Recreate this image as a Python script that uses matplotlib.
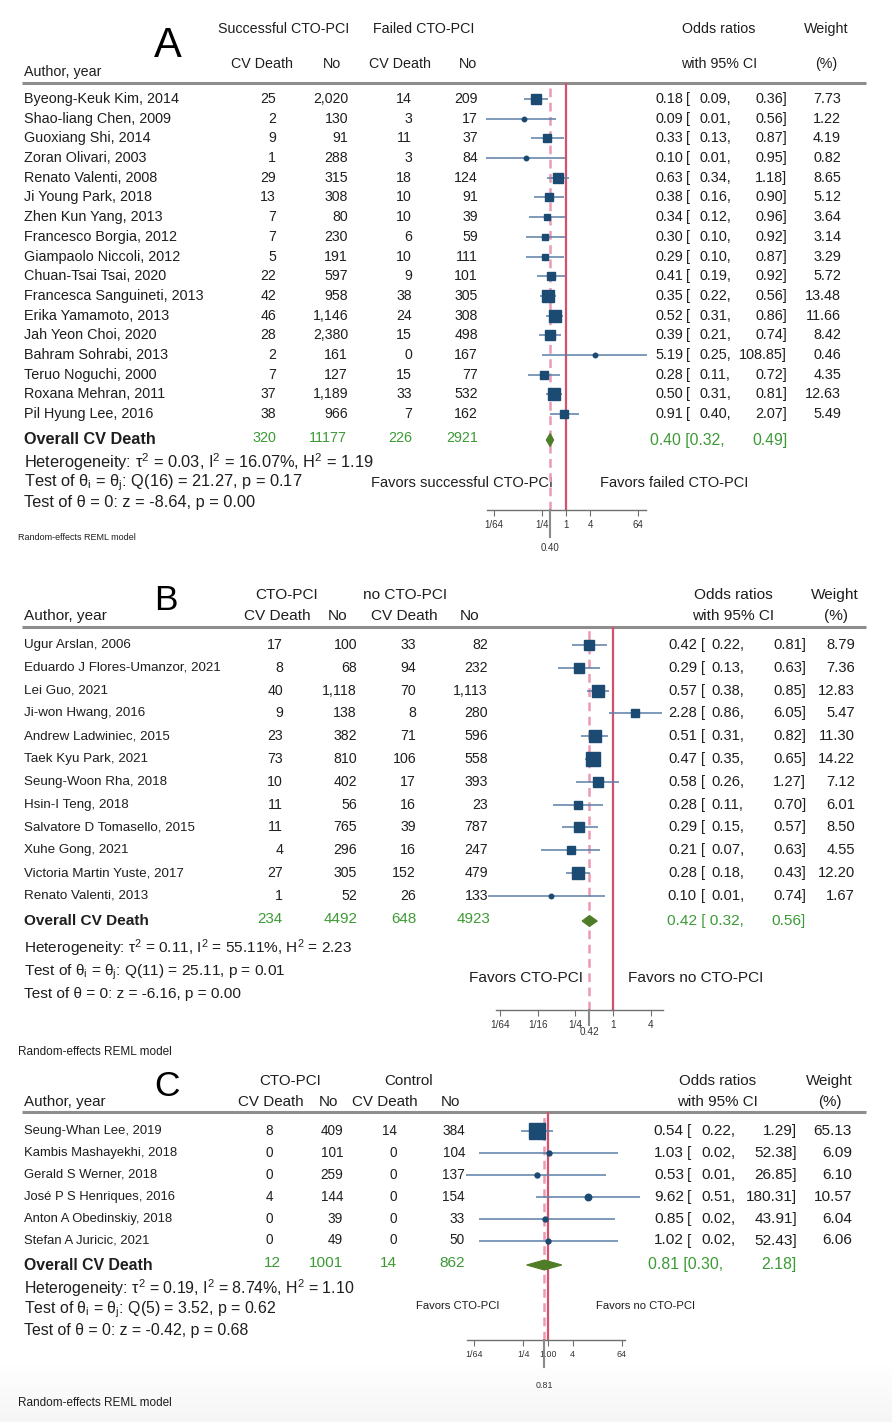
import numpy as np
import matplotlib
matplotlib.use("Agg")
import matplotlib.pyplot as plt
import matplotlib.font_manager as fm
from matplotlib.patches import Polygon

# ---------------- data ----------------
# panel A: successful vs failed CTO-PCI
authors_a = ["Byeong-Keuk Kim, 2014", "Shao-liang Chen, 2009", "Guoxiang Shi, 2014",
             "Zoran Olivari, 2003", "Renato Valenti, 2008", "Ji Young Park, 2018",
             "Zhen Kun Yang, 2013", "Francesco Borgia, 2012", "Giampaolo Niccoli, 2012",
             "Chuan-Tsai Tsai, 2020", "Francesca Sanguineti, 2013", "Erika Yamamoto, 2013",
             "Jah Yeon Choi, 2020", "Bahram Sohrabi, 2013", "Teruo Noguchi, 2000",
             "Roxana Mehran, 2011", "Pil Hyung Lee, 2016"]
ev1_a = [25, 2, 9, 1, 29, 13, 7, 7, 5, 22, 42, 46, 28, 2, 7, 37, 38]
no1_a = [2020, 130, 91, 288, 315, 308, 80, 230, 191, 597, 958, 1146, 2380, 161, 127, 1189, 966]
ev2_a = [14, 3, 11, 3, 18, 10, 10, 6, 10, 9, 38, 24, 15, 0, 15, 33, 7]
no2_a = [209, 17, 37, 84, 124, 91, 39, 59, 111, 101, 305, 308, 498, 167, 77, 532, 162]
or_a = [0.18, 0.09, 0.33, 0.10, 0.63, 0.38, 0.34, 0.30, 0.29, 0.41, 0.35, 0.52, 0.39, 5.19, 0.28, 0.50, 0.91]
lo_a = [0.09, 0.01, 0.13, 0.01, 0.34, 0.16, 0.12, 0.10, 0.10, 0.19, 0.22, 0.31, 0.21, 0.25, 0.11, 0.31, 0.40]
hi_a = [0.36, 0.56, 0.87, 0.95, 1.18, 0.90, 0.96, 0.92, 0.87, 0.92, 0.56, 0.86, 0.74, 108.85, 0.72, 0.81, 2.07]
wt_a = [7.73, 1.22, 4.19, 0.82, 8.65, 5.12, 3.64, 3.14, 3.29, 5.72, 13.48, 11.66, 8.42, 0.46, 4.35, 12.63, 5.49]
tot_a = [320, 11177, 226, 2921]
overall_a = [0.40, 0.32, 0.49]
stats_a = ["0.03", "16.07%", "1.19", "16", "21.27", "0.17", "-8.64", "0.00"]

# panel B: CTO-PCI vs no CTO-PCI
authors_b = ["Ugur Arslan, 2006", "Eduardo J Flores-Umanzor, 2021", "Lei Guo, 2021",
             "Ji-won Hwang, 2016", "Andrew Ladwiniec, 2015", "Taek Kyu Park, 2021",
             "Seung-Woon Rha, 2018", "Hsin-I Teng, 2018", "Salvatore D Tomasello, 2015",
             "Xuhe Gong, 2021", "Victoria Martin Yuste, 2017", "Renato Valenti, 2013"]
ev1_b = [17, 8, 40, 9, 23, 73, 10, 11, 11, 4, 27, 1]
no1_b = [100, 68, 1118, 138, 382, 810, 402, 56, 765, 296, 305, 52]
ev2_b = [33, 94, 70, 8, 71, 106, 17, 16, 39, 16, 152, 26]
no2_b = [82, 232, 1113, 280, 596, 558, 393, 23, 787, 247, 479, 133]
or_b = [0.42, 0.29, 0.57, 2.28, 0.51, 0.47, 0.58, 0.28, 0.29, 0.21, 0.28, 0.10]
lo_b = [0.22, 0.13, 0.38, 0.86, 0.31, 0.35, 0.26, 0.11, 0.15, 0.07, 0.18, 0.01]
hi_b = [0.81, 0.63, 0.85, 6.05, 0.82, 0.65, 1.27, 0.70, 0.57, 0.63, 0.43, 0.74]
wt_b = [8.79, 7.36, 12.83, 5.47, 11.30, 14.22, 7.12, 6.01, 8.50, 4.55, 12.20, 1.67]
tot_b = [234, 4492, 648, 4923]
overall_b = [0.42, 0.32, 0.56]
stats_b = ["0.11", "55.11%", "2.23", "11", "25.11", "0.01", "-6.16", "0.00"]

# panel C: CTO-PCI vs control
authors_c = ["Seung-Whan Lee, 2019", "Kambis Mashayekhi, 2018", "Gerald S Werner, 2018",
             "José P S Henriques, 2016", "Anton A Obedinskiy, 2018", "Stefan A Juricic, 2021"]
ev1_c = [8, 0, 0, 4, 0, 0]
no1_c = [409, 101, 259, 144, 39, 49]
ev2_c = [14, 0, 0, 0, 0, 0]
no2_c = [384, 104, 137, 154, 33, 50]
or_c = [0.54, 1.03, 0.53, 9.62, 0.85, 1.02]
lo_c = [0.22, 0.02, 0.01, 0.51, 0.02, 0.02]
hi_c = [1.29, 52.38, 26.85, 180.31, 43.91, 52.43]
wt_c = [65.13, 6.09, 6.10, 10.57, 6.04, 6.06]
tot_c = [12, 1001, 14, 862]
overall_c = [0.81, 0.30, 2.18]
stats_c = ["0.19", "8.74%", "1.10", "5", "3.52", "0.62", "-0.42", "0.68"]

ticks_a = [1/64, 1/4, 1, 4, 64]
ticklabels_a = ["1/64", "1/4", "1", "4", "64"]
ticks_b = [1/64, 1/16, 1/4, 1, 4]
ticklabels_b = ["1/64", "1/16", "1/4", "1", "4"]
ticks_c = [1/64, 1/4, 1, 4, 64]
ticklabels_c = ["1/64", "1/4", "1.00", "4", "64"]


# ---------------- style ----------------
def has_font(name):
    try:
        fm.findfont(fm.FontProperties(family=name), fallback_to_default=False)
        return True
    except Exception:
        return False


REG = "Liberation Sans"
NARROW = "Liberation Sans Narrow" if has_font("Liberation Sans Narrow") else "Liberation Sans"
NSCALE = 1.0 if NARROW != REG else 0.85

plt.rcParams["font.family"] = [REG, "DejaVu Sans"]
plt.rcParams["mathtext.fontset"] = "custom"
plt.rcParams["mathtext.rm"] = REG
plt.rcParams["mathtext.it"] = REG

INK = "#1e1e1e"
GREEN = "#3c9a35"
NAVY = "#1b4a72"
CI_COL = "#5a7fa6"
RED = "#d4506c"
PINK = "#ec9ab2"
DIAMOND = "#4f7d27"
RULE = "#8e8e8e"

W, H = 892, 1422
fig = plt.figure(figsize=(W / 100, H / 100), dpi=100)
ax = fig.add_axes([0, 0, 1, 1])
ax.set_xlim(0, W)
ax.set_ylim(H, 0)
ax.axis("off")

# faint grey fade at the very bottom of the screenshot
fade = np.linspace(0, 1, 60)[:, None]
ax.imshow(fade, cmap="Greys", vmin=0, vmax=12, extent=(0, W, H, 1362),
          aspect="auto", zorder=0)


def txt(x, y, s, size, ha="left", color=INK, weight="normal", family=REG, va="center"):
    ax.text(x, y, s, fontsize=size, ha=ha, va=va, color=color,
            fontweight=weight, family=[family, "DejaVu Sans"])


def draw_panel(p):
    fam = p["family"]
    fs = p["fs"]
    # panel letter
    txt(p["letter_xy"][0], p["letter_xy"][1], p["letter"], p["letter_size"], ha="center",
        color="black", family=fam)
    # headers
    for s, x in zip(p["hdr1"], p["hdr1_x"]):
        txt(x, p["hdr1_y"], s, fs["hdr"], ha="center", family=fam)
    for s, x in zip(p["hdr2"], p["hdr2_x"]):
        txt(x, p["hdr2_y"], s, fs["hdr"], ha="center", family=fam)
    txt(24, p["author_y"], "Author, year", fs["hdr"], family=fam)
    ax.plot([22, 866], [p["rule_y"], p["rule_y"]], color=RULE, lw=2.2,
            solid_capstyle="butt")

    # study rows
    n = len(p["authors"])
    for i in range(n):
        y = p["y0"] + i * p["dy"]
        txt(24, y, p["authors"][i], fs["name"], family=p["name_family"])
        vals = [p["ev1"][i], p["no1"][i], p["ev2"][i], p["no2"][i]]
        for v, x in zip(vals, p["num_x"]):
            txt(x, y, f"{v:,}", fs["num"], ha="right", family=fam)
        cx = p["ci_x"]
        txt(cx[0], y, f"{p['or'][i]:.2f}", fs["ci"], ha="right", family=fam)
        txt(cx[1], y, "[", fs["ci"], family=fam)
        txt(cx[2], y, f"{p['lo'][i]:.2f},", fs["ci"], family=fam)
        txt(cx[3], y, f"{p['hi'][i]:.2f}]", fs["ci"], ha="right", family=fam)
        txt(cx[4], y, f"{p['wt'][i]:.2f}", fs["ci"], ha="right", family=fam)

    # overall row
    oy = p["overall_y"]
    txt(24, oy, "Overall CV Death", fs["overall"], weight="bold", family=fam)
    for v, x in zip(p["tot"], p["tot_x"]):
        txt(x, oy - 2, str(v), fs["tot"], ha="right", color=GREEN, family=fam)
    ov, olo, ohi = p["overall"]
    txt(p["ov_x"][0], oy, f"{ov:.2f} [{p['ov_gap']}{olo:.2f},", fs["ovci"], color=GREEN,
        family=fam)
    txt(p["ov_x"][1], oy, f"{ohi:.2f}]", fs["ovci"], ha="right", color=GREEN, family=fam)

    st = p["stats"]
    txt(24, p["het_y"][0], f"Heterogeneity: τ$^2$ = {st[0]}, I$^2$ = {st[1]}, H$^2$ = {st[2]}",
        fs["het"], family=fam)
    txt(24, p["het_y"][1], f"Test of θ$_i$ = θ$_j$: Q({st[3]}) = {st[4]}, p = {st[5]}",
        fs["het"], family=fam)
    txt(24, p["het_y"][2], f"Test of θ = 0: z = {st[6]}, p = {st[7]}", fs["het"], family=fam)

    txt(p["fav_x"][0], p["fav_y"], p["fav"][0], fs["fav"], ha="right", family=fam)
    txt(p["fav_x"][1], p["fav_y"], p["fav"][1], fs["fav"], family=fam)
    txt(18, p["foot_y"], "Random-effects REML model", fs["foot"], family=fam)

    # forest axes: log2 x scale, rows on y
    L, R, T, B = p["box"]
    one_x, unit = p["one_x"], p["unit"]
    fa = fig.add_axes([L / W, 1 - B / H, (R - L) / W, (B - T) / H])
    fa.patch.set_alpha(0)
    fa.set_xscale("log", base=2)
    fa.set_xlim(2 ** ((L - one_x) / unit), 2 ** ((R - one_x) / unit))
    fa.set_ylim((B - p["y0"]) / p["dy"], (T - p["y0"]) / p["dy"])
    for s in ["top", "left", "right"]:
        fa.spines[s].set_visible(False)
    fa.spines["bottom"].set_color("#6f6f6f")
    fa.spines["bottom"].set_linewidth(1.0)
    fa.set_yticks([])
    fa.set_xticks(p["ticks"])
    fa.set_xticklabels(p["ticklabels"])
    fa.minorticks_off()
    fa.tick_params(axis="x", length=4, width=0.8, color="#6f6f6f", labelsize=fs["tick"],
                   labelcolor="#333333", pad=3)
    for lab in fa.get_xticklabels():
        lab.set_family([fam, "DejaVu Sans"])

    fa.axvline(1, color=RED, lw=1.6, zorder=1)
    fa.axvline(ov, color=PINK, lw=1.8, ls=(0, (3.5, 2.2)), zorder=1)

    for i in range(n):
        fa.plot([p["lo"][i], p["hi"][i]], [i, i], color=CI_COL, lw=1.1, zorder=2,
                clip_on=False, solid_capstyle="butt")
        side = p["k"] * np.sqrt(p["wt"][i])
        if side < p["dot_cut"]:
            fa.plot(p["or"][i], i, marker="o", ms=max(side, 4.5) * 0.72, color=NAVY,
                    mec=NAVY, zorder=3, clip_on=False)
        else:
            fa.plot(p["or"][i], i, marker="s", ms=side * 0.72, color=NAVY, mec=NAVY,
                    zorder=3, clip_on=False)

    orow = (oy - p["y0"]) / p["dy"]
    h = p["dia_h"] / p["dy"]
    fa.add_patch(Polygon([(olo, orow), (ov, orow - h), (ohi, orow), (ov, orow + h)],
                         closed=True, facecolor=DIAMOND, edgecolor=DIAMOND, lw=0.8,
                         zorder=4))

    # grey marker of the overall estimate under the axis
    trans = fa.get_xaxis_transform()
    axh = B - T
    fa.plot([ov, ov], [0, -p["gray_len"] / axh], transform=trans, color="#8a8a8a",
            lw=1.5, clip_on=False, zorder=5)
    fa.text(ov, -p["gray_lab"] / axh, f"{ov:.2f}", transform=trans, ha="center",
            va="center", fontsize=fs["tick"], color="#333333", family=[fam, "DejaVu Sans"])


panel_a = dict(
    family=REG, name_family=REG, letter="A", letter_xy=(168, 46), letter_size=30,
    fs=dict(hdr=10.3, name=10.4, num=10.2, ci=10.4, overall=11.7, tot=10.3, ovci=11.3,
            het=11.8, fav=10.5, tick=7, foot=6.5),
    hdr1=["Successful CTO-PCI", "Failed CTO-PCI", "Odds ratios", "Weight"],
    hdr1_x=[284, 424, 719, 826], hdr1_y=29,
    hdr2=["CV Death", "No", "CV Death", "No", "with 95% CI", "(%)"],
    hdr2_x=[262, 332, 400, 468, 719, 826], hdr2_y=64, author_y=72, rule_y=83,
    authors=authors_a, ev1=ev1_a, no1=no1_a, ev2=ev2_a, no2=no2_a,
    y0=99, dy=19.69, num_x=[276, 348, 412, 478], ci_x=[683, 686, 700, 787, 841],
    tot=tot_a, tot_x=[276, 347, 412, 478], overall=overall_a, overall_y=440,
    ov_x=[650, 788], ov_gap="", stats=stats_a, het_y=[462, 483, 503],
    fav=["Favors successful CTO-PCI", "Favors failed CTO-PCI"], fav_x=[553, 600], fav_y=483,
    foot_y=538, box=(487, 646, 83, 510), one_x=566, unit=12.0,
    ticks=ticks_a, ticklabels=ticklabels_a, k=3.5, dot_cut=5.0, dia_h=6.5,
    gray_len=27, gray_lab=38,
)
panel_a["or"], panel_a["lo"], panel_a["hi"], panel_a["wt"] = or_a, lo_a, hi_a, wt_a

ns = NSCALE
panel_b = dict(
    family=NARROW, name_family=REG, letter="B", letter_xy=(166, 600), letter_size=30 * ns,
    fs=dict(hdr=13 * ns, name=9.6, num=12 * ns, ci=12.5 * ns, overall=13 * ns,
            tot=12.8 * ns, ovci=13 * ns, het=13 * ns, fav=13 * ns, tick=8.5 * ns,
            foot=10 * ns),
    hdr1=["CTO-PCI", "no CTO-PCI", "Odds ratios", "Weight"],
    hdr1_x=[287, 405, 733, 835], hdr1_y=595,
    hdr2=["CV Death", "No", "CV Death", "No", "with 95% CI", "(%)"],
    hdr2_x=[277, 338, 404, 470, 733, 836], hdr2_y=616, author_y=616, rule_y=627,
    authors=authors_b, ev1=ev1_b, no1=no1_b, ev2=ev2_b, no2=no2_b,
    y0=645, dy=22.8, num_x=[283, 357, 416, 488], ci_x=[697, 701, 711, 806, 855],
    tot=tot_b, tot_x=[283, 357, 416, 490], overall=overall_b, overall_y=921,
    ov_x=[667, 806], ov_gap=" ", stats=stats_b, het_y=[948, 972, 994],
    fav=["Favors CTO-PCI", "Favors no CTO-PCI"], fav_x=[583, 628], fav_y=978,
    foot_y=1052, box=(496, 663, 627, 1010), one_x=613, unit=18.8,
    ticks=ticks_b, ticklabels=ticklabels_b, k=3.45, dot_cut=5.0, dia_h=5.5,
    gray_len=15, gray_lab=22,
)
panel_b["or"], panel_b["lo"], panel_b["hi"], panel_b["wt"] = or_b, lo_b, hi_b, wt_b

panel_c = dict(
    family=NARROW, name_family=NARROW, letter="C", letter_xy=(167, 1086),
    letter_size=30 * ns,
    fs=dict(hdr=12.8 * ns, name=11 * ns, num=11.5 * ns, ci=13 * ns, overall=13.5 * ns,
            tot=13 * ns, ovci=13.5 * ns, het=13.5 * ns, fav=9.5 * ns, tick=7.5 * ns,
            foot=10 * ns),
    hdr1=["CTO-PCI", "Control", "Odds ratios", "Weight"],
    hdr1_x=[290, 409, 718, 829], hdr1_y=1081,
    hdr2=["CV Death", "No", "CV Death", "No", "with 95% CI", "(%)"],
    hdr2_x=[271, 328, 385, 450, 717, 830], hdr2_y=1102, author_y=1102, rule_y=1112,
    authors=authors_c, ev1=ev1_c, no1=no1_c, ev2=ev2_c, no2=no2_c,
    y0=1131, dy=21.9, num_x=[273, 343, 397, 465], ci_x=[684, 687, 701, 797, 852],
    tot=tot_c, tot_x=[281, 343, 397, 465], overall=overall_c, overall_y=1265,
    ov_x=[648, 797], ov_gap="", stats=stats_c, het_y=[1288, 1310, 1331],
    fav=["Favors CTO-PCI", "Favors no CTO-PCI"], fav_x=[500, 596], fav_y=1306,
    foot_y=1403, box=(467, 625, 1112, 1340), one_x=548, unit=12.3,
    ticks=ticks_c, ticklabels=ticklabels_c, k=2.0, dot_cut=7.0, dia_h=5.0,
    gray_len=27, gray_lab=45,
)
panel_c["or"], panel_c["lo"], panel_c["hi"], panel_c["wt"] = or_c, lo_c, hi_c, wt_c

for panel in [panel_a, panel_b, panel_c]:
    draw_panel(panel)

fig.savefig("out.png", dpi=100)
